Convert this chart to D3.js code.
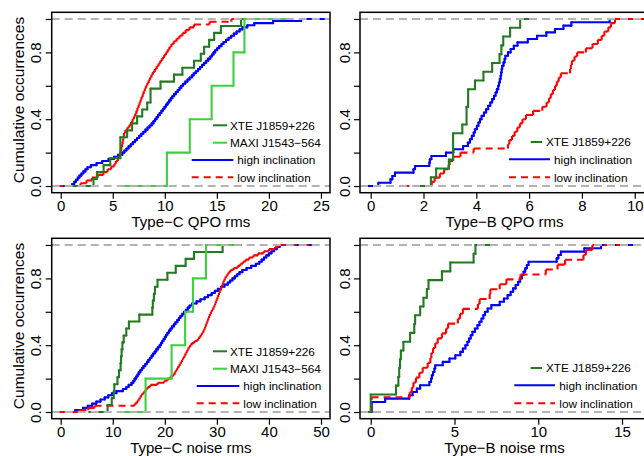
<!DOCTYPE html>
<html>
<head>
<meta charset="utf-8">
<script src="https://cdn.jsdelivr.net/npm/d3@7"></script>
<style>
  body { margin: 0; background: #fff; }
  svg { display: block; font-family: "Liberation Sans", Arial, sans-serif; }
</style>
</head>
<body>
<div id="chart"></div>
<script>
const qpoC_xte = [3.15, 3.48, 4.12, 4.76, 5.73, 5.73, 5.73, 6.38, 6.86, 7.34, 7.83, 8.31, 8.63, 8.63, 9.59, 10.88, 11.69, 12.81, 13.46, 13.78, 14.26, 14.74, 15.39, 17.32];
const qpoC_maxi = [10.2, 12.4, 14.5, 16.6, 17.65];
const qpoC_high = [1.1, 1.3, 1.47, 1.64, 1.8, 1.99, 2.18, 2.38, 2.58, 2.9, 3.45, 3.99, 4.6, 5.12, 5.52, 5.92, 6.12, 6.32, 6.52, 6.73,
  6.93, 7.13, 7.33, 7.54, 7.74, 7.94, 8.14, 8.34, 8.54, 8.74, 8.91, 9.06, 9.21, 9.36, 9.51, 9.67, 9.82, 9.97, 10.12, 10.27,
  10.42, 10.57, 10.72, 10.89, 11.06, 11.24, 11.41, 11.58, 11.76, 11.97, 12.18, 12.39, 12.6, 12.78, 12.98, 13.19, 13.39, 13.58, 13.78, 13.98,
  14.17, 14.37, 14.53, 14.69, 14.84, 15.03, 15.23, 15.44, 15.64, 15.88, 16.13, 16.38, 16.63, 16.9, 17.19, 17.47, 17.93, 18.6, 20.4, 23.1];
const qpoC_low = [1.9, 2.48, 3.0, 3.55, 4.1, 4.5, 4.85, 5.15, 5.3, 5.5, 5.62, 5.7, 5.76, 5.83, 5.9, 5.95, 6.0, 6.04, 6.08, 6.2,
  6.4, 6.6, 6.76, 6.9, 7.03, 7.16, 7.27, 7.37, 7.47, 7.57, 7.67, 7.76, 7.87, 7.97, 8.08, 8.18, 8.32, 8.45, 8.58, 8.72,
  8.85, 9.04, 9.22, 9.4, 9.57, 9.75, 9.92, 10.1, 10.28, 10.46, 10.64, 10.86, 11.13, 11.4, 11.7, 12.0, 12.37, 12.8, 14.3, 16.4];

const qpoB_xte = [2.28, 2.48, 2.96, 3.12, 3.12, 3.12, 3.47, 3.63, 3.63, 3.69, 3.69, 3.95, 4.27, 4.6, 4.88, 4.95, 5.02, 5.28, 5.66];
const qpoB_high = [0.29, 0.75, 0.82, 0.92, 1.62, 1.68, 2.22, 2.24, 2.3, 2.85, 3.13, 3.5, 3.68, 3.76, 3.83, 3.9, 3.95, 4.02, 4.08, 4.14,
  4.2, 4.29, 4.37, 4.45, 4.53, 4.6, 4.67, 4.73, 4.78, 4.83, 4.86, 4.89, 4.92, 4.94, 4.96, 4.98, 5.03, 5.07, 5.1, 5.2,
  5.3, 5.42, 5.56, 5.95, 6.3, 6.65, 6.98, 7.3, 7.6, 9.05];
const qpoB_low = [2.31, 2.42, 2.62, 2.78, 2.95, 2.99, 3.12, 3.4, 3.9, 5.2, 5.25, 5.35, 5.45, 5.55, 5.65, 5.75, 5.88, 6.15, 6.5, 6.66,
  6.75, 6.82, 6.9, 6.98, 7.05, 7.12, 7.2, 7.55, 7.58, 7.62, 7.72, 7.82, 8.15, 8.4, 8.6, 8.75, 8.85, 9.0, 9.1, 9.25];

const noiseC_xte = [9.0, 9.8, 10.2, 10.3, 10.9, 11.2, 11.5, 11.6, 11.7, 11.85, 12.1, 12.6, 13.1, 15.1, 17.6, 17.7, 17.9, 18.1, 18.6, 20.5, 22.1, 24.0, 25.6, 31.1];
const noiseC_maxi = [16.3, 21.3, 23.9, 25.4, 27.9];
const noiseC_high = [2.8, 4.3, 5.2, 6.05, 6.85, 7.65, 8.45, 9.15, 9.85, 10.7, 11.95, 12.6, 13.05, 13.6, 13.95, 14.2, 14.5, 14.75, 15.0, 15.3,
  15.6, 15.9, 16.25, 16.55, 16.85, 17.15, 17.45, 17.75, 18.05, 18.35, 18.65, 19.0, 19.25, 19.5, 19.75, 20.0, 20.25, 20.5, 20.8, 21.1,
  21.4, 21.75, 22.05, 22.4, 22.7, 23.0, 23.35, 23.7, 24.05, 24.4, 24.75, 25.25, 26.1, 26.85, 27.65, 28.3, 29.0, 29.6, 30.2, 30.8,
  31.45, 32.1, 32.55, 33.0, 33.45, 33.9, 34.35, 34.9, 35.7, 36.6, 37.5, 38.15, 38.6, 39.05, 39.5, 40.0, 40.5, 41.0, 41.5, 42.05];
const noiseC_low = [3.6, 5.3, 6.5, 14.2, 14.6, 14.9, 15.15, 15.4, 15.7, 16.05, 16.4, 16.7, 17.2, 18.6, 19.9, 20.5, 21.1, 21.6, 21.9, 22.1,
  22.35, 22.6, 22.85, 23.05, 23.3, 23.5, 23.75, 23.95, 24.15, 24.35, 24.55, 24.85, 25.15, 25.7, 26.3, 26.6, 26.9, 27.15, 27.4, 27.6,
  27.75, 27.9, 28.05, 28.2, 28.35, 28.5, 28.65, 28.85, 29.05, 29.3, 29.5, 29.65, 29.8, 29.95, 30.1, 30.25, 30.4, 30.55, 30.7, 30.85,
  31.0, 31.15, 31.3, 31.5, 31.7, 32.0, 32.25, 32.6, 33.2, 34.0, 34.5, 35.0, 35.5, 36.2, 37.0, 37.9, 39.0, 40.0, 41.2, 41.7];

const noiseB_xte = [0.0, 0.0, 1.51, 1.65, 1.7, 1.75, 1.8, 1.95, 2.35, 2.6, 2.65, 2.95, 3.15, 3.35, 3.45, 4.25, 4.75, 6.14, 6.25];
const noiseB_high = [0.06, 0.06, 0.06, 0.86, 2.3, 2.5, 2.75, 2.95, 3.5, 3.6, 3.65, 3.72, 3.8, 3.85, 4.3, 4.7, 5.05, 5.35, 5.5, 5.65,
  5.77, 5.87, 5.97, 6.07, 6.22, 6.37, 6.49, 6.61, 6.72, 6.82, 6.98, 7.2, 7.7, 7.95, 8.17, 8.35, 8.5, 8.65, 8.8, 8.92,
  9.02, 9.12, 9.22, 9.32, 9.42, 11.1, 11.2, 11.35, 12.75, 13.75];
const noiseB_low = [0.05, 0.05, 0.05, 2.33, 2.45, 2.55, 2.7, 2.9, 3.1, 3.4, 3.56, 3.62, 3.72, 3.85, 4.0, 4.25, 4.5, 4.62, 5.2, 5.33,
  5.5, 6.4, 6.5, 7.1, 7.14, 7.7, 8.1, 8.94, 10.45, 11.15, 11.6, 12.7, 12.85, 13.23];

const ticksQpoC = [0, 5, 10, 15, 20, 25];
const ticksQpoB = [0, 2, 4, 6, 8, 10];
const ticksNoiseC = [0, 10, 20, 30, 40, 50];
const ticksNoiseB = [0, 5, 10, 15];
const yTicks = [0, 0.2, 0.4, 0.6, 0.8, 1];
const yLabelled = [0, 0.4, 0.8];

const names = {
  xte: "XTE J1859+226",
  maxi: "MAXI J1543\u2212564",
  high: "high inclination",
  low: "low inclination"
};
const colors = {xte: "#237a23", maxi: "#3fcf3f", high: "#0000ff", low: "#ff0000"};

const W = 644, H = 456;
const svg = d3.select("#chart").append("svg").attr("width", W).attr("height", H);

// same segments that R's plot.stepfun draws: horizontals, then verticals
function ecdfSegments(vals) {
  const v = vals.slice().sort(d3.ascending);
  const n = v.length;
  const knots = Array.from(new Set(v));
  const lev = knots.map(k => d3.bisectRight(v, k) / n);
  const lo = knots[0], hi = knots[knots.length - 1];
  const dr = knots.length > 1
    ? Math.max(0.08 * (hi - lo), d3.median(d3.pairs(knots, (a, b) => b - a)))
    : Math.abs(lo) / 16;
  const ti = [lo - 2 * dr, ...knots, hi + 2 * dr];
  const ys = [0, ...lev];
  const hor = ys.map((y, i) => ({x1: ti[i], x2: ti[i + 1], y1: y, y2: y}));
  const ver = knots.map((k, i) => ({x1: k, x2: k, y1: ys[i], y2: ys[i + 1]}));
  return hor.concat(ver);
}

const panels = [
  {id: 1, left: 51.7, right: 330, top: 12.3, bottom: 192.7, xDomain: [-0.865, 25.87], ticks: ticksQpoC,
   title: "Type\u2212C QPO rms", ylab: true,
   series: [["high", qpoC_high], ["low", qpoC_low], ["xte", qpoC_xte], ["maxi", qpoC_maxi]],
   legend: [["xte", 213, 227, 125.3, 230], ["maxi", 213, 227, 142.7, 230],
            ["high", 191.7, 233.3, 160, 237.3], ["low", 191.7, 233.3, 177.3, 237.3]]},
  {id: 2, left: 360, right: 649, top: 12.3, bottom: 192.7, xDomain: [-0.405, 10.54], ticks: ticksQpoB,
   title: "Type\u2212B QPO rms", ylab: false,
   series: [["high", qpoB_high], ["low", qpoB_low], ["xte", qpoB_xte]],
   legend: [["xte", 530.7, 542, 142, 546], ["high", 509, 550, 159.3, 554], ["low", 509, 550, 177.3, 554]]},
  {id: 3, left: 51.7, right: 330, top: 238.3, bottom: 418.7, xDomain: [-1.73, 51.73], ticks: ticksNoiseC,
   title: "Type\u2212C noise rms", ylab: true,
   series: [["high", noiseC_high], ["low", noiseC_low], ["xte", noiseC_xte], ["maxi", noiseC_maxi]],
   legend: [["xte", 213, 227, 351.3, 230], ["maxi", 213, 227, 368.7, 230],
            ["high", 196.7, 239.3, 386, 243.3], ["low", 196.7, 239.3, 403.3, 243.3]]},
  {id: 4, left: 360, right: 649, top: 238.3, bottom: 418.7, xDomain: [-0.64, 16.61], ticks: ticksNoiseB,
   title: "Type\u2212B noise rms", ylab: false,
   series: [["high", noiseB_high], ["low", noiseB_low], ["xte", noiseB_xte]],
   legend: [["xte", 530.7, 542, 368, 546], ["high", 514.3, 555, 385.3, 559.3], ["low", 514.3, 555, 403.3, 559.3]]}
];

panels.forEach(p => {
  const x = d3.scaleLinear().domain(p.xDomain).range([p.left, p.right]);
  const y = d3.scaleLinear().domain([-0.04, 1.04]).range([p.bottom, p.top]);
  const g = svg.append("g");

  g.append("clipPath").attr("id", "clip" + p.id)
    .append("rect").attr("x", p.left).attr("y", p.top)
    .attr("width", p.right - p.left).attr("height", p.bottom - p.top);
  const plot = g.append("g").attr("clip-path", `url(#clip${p.id})`);

  p.series.forEach(([key, vals]) => {
    const dashed = key === "low";
    plot.append("g").selectAll("line").data(ecdfSegments(vals)).join("line")
      .attr("x1", d => x(d.x1)).attr("x2", d => x(d.x2))
      .attr("y1", d => y(d.y1)).attr("y2", d => y(d.y2))
      .attr("stroke", colors[key]).attr("stroke-width", 2.1)
      .attr("stroke-linecap", dashed ? "butt" : "round")
      .attr("stroke-dasharray", dashed ? "7,5" : null);
  });

  // grey reference lines at 0 and 1
  plot.append("g").selectAll("line").data([0, 1]).join("line")
    .attr("x1", p.left).attr("x2", p.right)
    .attr("y1", d => y(d)).attr("y2", d => y(d))
    .attr("stroke", "#b3b3b3").attr("stroke-width", 2).attr("stroke-dasharray", "8,5");

  g.append("rect").attr("x", p.left).attr("y", p.top)
    .attr("width", p.right - p.left).attr("height", p.bottom - p.top)
    .attr("fill", "none").attr("stroke", "#000").attr("stroke-width", 1.5);

  const xa = g.append("g").attr("transform", `translate(0,${p.bottom})`)
    .call(d3.axisBottom(x).tickValues(p.ticks).tickSize(6).tickPadding(2).tickFormat(d3.format("d")));
  xa.select(".domain").remove();
  xa.selectAll("line").attr("stroke-width", 1.2);
  xa.selectAll("text").attr("font-size", 15).attr("fill", "#000").attr("font-family", null);

  const ya = g.append("g").attr("transform", `translate(${p.left},0)`)
    .call(d3.axisLeft(y).tickValues(yTicks).tickSize(6)
      .tickFormat(d => yLabelled.includes(d) ? d3.format(".1f")(d) : ""));
  ya.select(".domain").remove();
  ya.selectAll("line").attr("stroke-width", 1.2);
  ya.selectAll("text").attr("font-size", 15).attr("fill", "#000").attr("font-family", null)
    .attr("x", 0).attr("y", -10.5).attr("dy", null)
    .attr("text-anchor", "middle").attr("transform", "rotate(-90)");

  g.append("text").attr("x", (p.left + p.right) / 2).attr("y", p.bottom + 34.5)
    .attr("text-anchor", "middle").attr("font-size", 15).text(p.title);

  if (p.ylab) {
    const cy = (p.top + p.bottom) / 2 - 2.5;
    g.append("text").attr("transform", `translate(24,${cy}) rotate(-90)`)
      .attr("text-anchor", "middle").attr("font-size", 15.5).text("Cumulative occurrences");
  }

  const lg = g.append("g");
  p.legend.forEach(([key, x1, x2, ly, tx]) => {
    lg.append("line").attr("x1", x1).attr("x2", x2).attr("y1", ly).attr("y2", ly)
      .attr("stroke", colors[key]).attr("stroke-width", 2)
      .attr("stroke-dasharray", key === "low" ? "7,5" : null);
    lg.append("text").attr("x", tx).attr("y", ly + 4.2)
      .attr("font-size", 11.8).text(names[key]);
  });
});
</script>
</body>
</html>
